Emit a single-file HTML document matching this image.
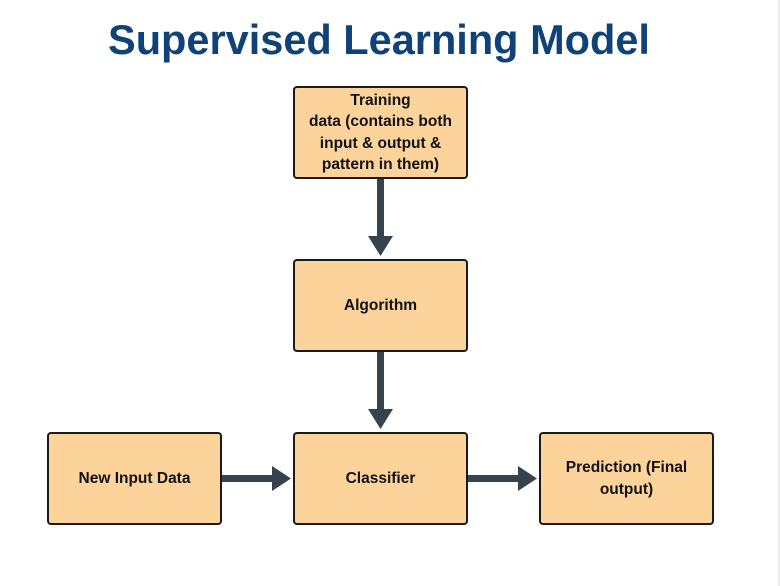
<!DOCTYPE html>
<html><head><style>
body{margin:0;width:780px;height:586px;background:#fff;position:relative;overflow:hidden;font-family:"Liberation Sans",sans-serif}
.t{position:absolute;left:0;width:758px;top:16px;text-align:center;font-size:41.5px;font-weight:bold;color:#0f4377}
.b{position:absolute;width:171px;height:89px;background:#fdd39c;border:2px solid #1a1a1a;border-radius:4px;display:flex;align-items:center;justify-content:center;text-align:center;font-size:15.5px;font-weight:bold;color:#111;line-height:22px}
.edge{position:absolute;right:0;top:0;width:2px;height:586px;background:#eee}
</style></head><body>
<div class="edge"></div>
<div class="t">Supervised Learning Model</div>
<div class="b" style="left:293px;top:86px;height:89px;line-height:21.5px">Training<br>data (contains both<br>input &amp; output &amp;<br>pattern in them)</div>
<div class="b" style="left:293px;top:259px">Algorithm</div>
<div class="b" style="left:293px;top:432px">Classifier</div>
<div class="b" style="left:47px;top:432px">New Input Data</div>
<div class="b" style="left:539px;top:432px">Prediction (Final<br>output)</div>
<svg width="780" height="586" style="position:absolute;left:0;top:0">
<g fill="#36434f">
<rect x="377" y="179" width="7" height="62"/><polygon points="368,236 393,236 380.5,256"/>
<rect x="377" y="352" width="7" height="62"/><polygon points="368,409 393,409 380.5,429"/>
<rect x="222" y="475" width="56" height="7"/><polygon points="272,466 272,491 291,478.5"/>
<rect x="468" y="475" width="56" height="7"/><polygon points="518,466 518,491 537,478.5"/>
</g></svg>
</body></html>
